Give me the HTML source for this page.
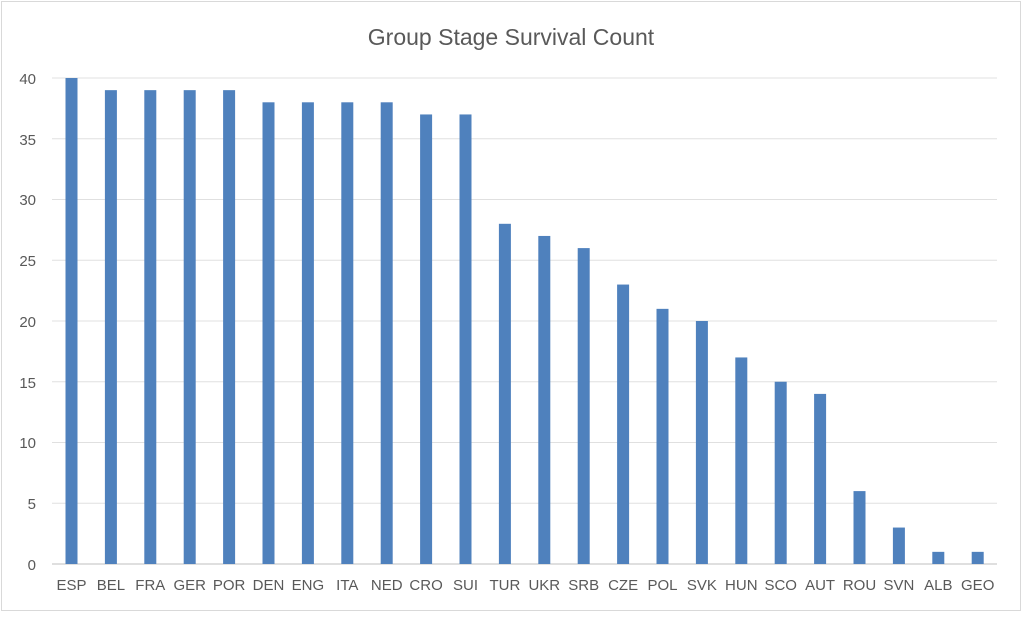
<!DOCTYPE html>
<html><head><style>
body{margin:0;background:#fff;}
text{font-family:"Liberation Sans",sans-serif;fill:#595959;}
</style></head><body>
<svg width="1023" height="613" xmlns="http://www.w3.org/2000/svg">
<rect x="1.5" y="1.5" width="1019" height="609" fill="#fff" stroke="#d9d9d9"/>
<text x="511" y="45" font-size="23" text-anchor="middle">Group Stage Survival Count</text>
<g stroke="#e0e0e0" stroke-width="1">
<line x1="52" x2="997" y1="78" y2="78"/>
<line x1="52" x2="997" y1="138.75" y2="138.75"/>
<line x1="52" x2="997" y1="199.5" y2="199.5"/>
<line x1="52" x2="997" y1="260.25" y2="260.25"/>
<line x1="52" x2="997" y1="321" y2="321"/>
<line x1="52" x2="997" y1="381.75" y2="381.75"/>
<line x1="52" x2="997" y1="442.5" y2="442.5"/>
<line x1="52" x2="997" y1="503.25" y2="503.25"/>
</g>
<line x1="52" x2="997" y1="564" y2="564" stroke="#bfbfbf"/>
<g font-size="15" text-anchor="end">
<text x="36" y="84">40</text>
<text x="36" y="145">35</text>
<text x="36" y="205">30</text>
<text x="36" y="266">25</text>
<text x="36" y="327">20</text>
<text x="36" y="388">15</text>
<text x="36" y="448">10</text>
<text x="36" y="509">5</text>
<text x="36" y="570">0</text>
</g>
<g fill="#4f81bd">
<rect x="65.5" y="78" width="12" height="486"/>
<rect x="104.9" y="90.15" width="12" height="473.85"/>
<rect x="144.3" y="90.15" width="12" height="473.85"/>
<rect x="183.7" y="90.15" width="12" height="473.85"/>
<rect x="223.1" y="90.15" width="12" height="473.85"/>
<rect x="262.5" y="102.3" width="12" height="461.7"/>
<rect x="301.9" y="102.3" width="12" height="461.7"/>
<rect x="341.3" y="102.3" width="12" height="461.7"/>
<rect x="380.7" y="102.3" width="12" height="461.7"/>
<rect x="420.1" y="114.45" width="12" height="449.55"/>
<rect x="459.5" y="114.45" width="12" height="449.55"/>
<rect x="498.9" y="223.8" width="12" height="340.2"/>
<rect x="538.3" y="235.95" width="12" height="328.05"/>
<rect x="577.7" y="248.1" width="12" height="315.9"/>
<rect x="617.1" y="284.55" width="12" height="279.45"/>
<rect x="656.5" y="308.85" width="12" height="255.15"/>
<rect x="695.9" y="321" width="12" height="243"/>
<rect x="735.3" y="357.45" width="12" height="206.55"/>
<rect x="774.7" y="381.75" width="12" height="182.25"/>
<rect x="814.1" y="393.9" width="12" height="170.1"/>
<rect x="853.5" y="491.1" width="12" height="72.9"/>
<rect x="892.9" y="527.55" width="12" height="36.45"/>
<rect x="932.3" y="551.85" width="12" height="12.15"/>
<rect x="971.7" y="551.85" width="12" height="12.15"/>
</g>
<g font-size="15" text-anchor="middle">
<text x="71.5" y="590">ESP</text>
<text x="110.9" y="590">BEL</text>
<text x="150.3" y="590">FRA</text>
<text x="189.7" y="590">GER</text>
<text x="229.1" y="590">POR</text>
<text x="268.5" y="590">DEN</text>
<text x="307.9" y="590">ENG</text>
<text x="347.3" y="590">ITA</text>
<text x="386.7" y="590">NED</text>
<text x="426.1" y="590">CRO</text>
<text x="465.5" y="590">SUI</text>
<text x="504.9" y="590">TUR</text>
<text x="544.3" y="590">UKR</text>
<text x="583.7" y="590">SRB</text>
<text x="623.1" y="590">CZE</text>
<text x="662.5" y="590">POL</text>
<text x="701.9" y="590">SVK</text>
<text x="741.3" y="590">HUN</text>
<text x="780.7" y="590">SCO</text>
<text x="820.1" y="590">AUT</text>
<text x="859.5" y="590">ROU</text>
<text x="898.9" y="590">SVN</text>
<text x="938.3" y="590">ALB</text>
<text x="977.7" y="590">GEO</text>
</g>
</svg>
</body></html>
